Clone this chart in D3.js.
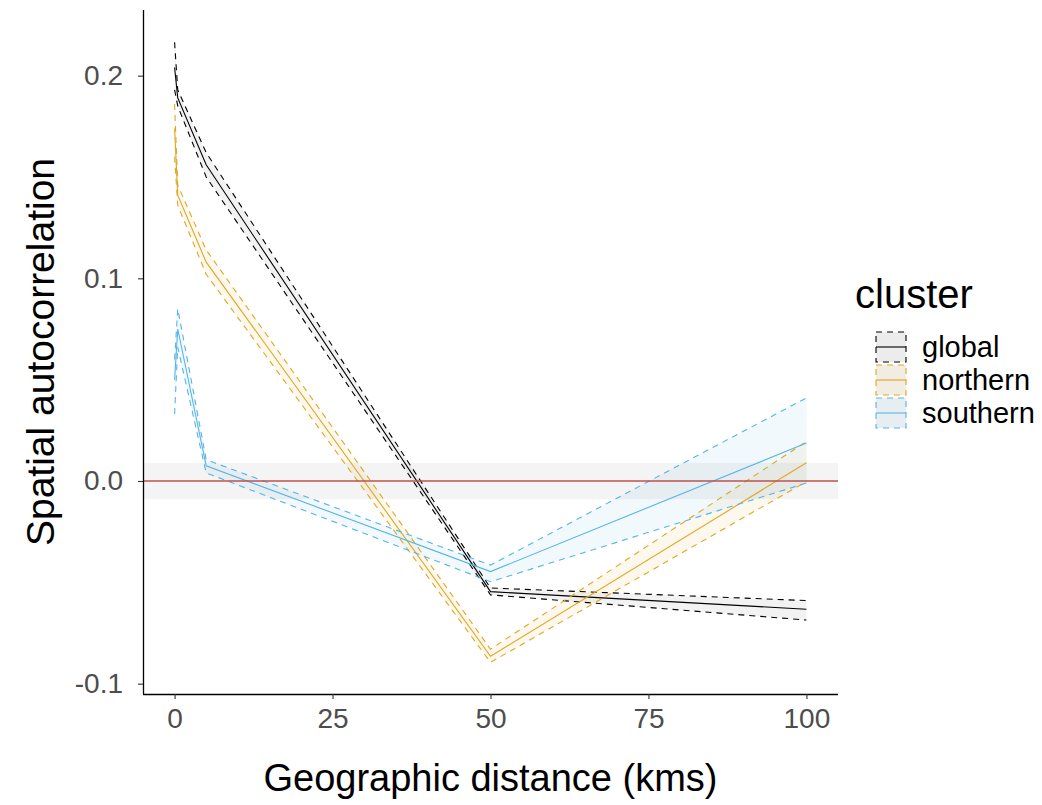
<!DOCTYPE html>
<html>
<head>
<meta charset="utf-8">
<script src="https://cdn.jsdelivr.net/npm/d3@7"></script>
<style>
  html, body { margin: 0; padding: 0; background: #ffffff; }
  svg { display: block; font-family: "Liberation Sans", Arial, sans-serif; }
</style>
</head>
<body>
<svg id="chart" width="1042" height="805"></svg>
<script>
// ---- data ----
const distances = [0, 0.5, 5, 50, 100];
const clusters = ["global", "northern", "southern"];
const globalMean = [0.204, 0.189, 0.156, -0.0546, -0.0633];
const globalLo   = [0.193, 0.185, 0.150, -0.0562, -0.0686];
const globalHi   = [0.2165, 0.193, 0.162, -0.0528, -0.0590];
const northernMean = [0.174, 0.141, 0.108, -0.0865, 0.0090];
const northernLo   = [0.160, 0.136, 0.102, -0.0895, -0.0003];
const northernHi   = [0.186, 0.146, 0.114, -0.0830, 0.0195];
const southernMean = [0.050, 0.075, 0.0075, -0.0447, 0.0187];
const southernLo   = [0.033, 0.066, 0.0040, -0.0497, -0.0010];
const southernHi   = [0.060, 0.085, 0.0105, -0.0415, 0.0410];
const nullBand = [-0.009, 0.009];
const xTicks = [0, 25, 50, 75, 100];
const yTicks = [-0.1, 0.0, 0.1, 0.2];
const colors = ["#000000", "#DFA820", "#56B4E9"];

const seriesMean = [globalMean, northernMean, southernMean];
const seriesLo = [globalLo, northernLo, southernLo];
const seriesHi = [globalHi, northernHi, southernHi];

const series = clusters.map((c, i) => ({
  name: c, color: colors[i],
  pts: distances.map((d, j) => ({ x: d, m: seriesMean[i][j], lo: seriesLo[i][j], hi: seriesHi[i][j] }))
}));

// ---- layout ----
const P = { left: 143, right: 838, top: 10, bottom: 694 };
const x = d3.scaleLinear().domain([-5, 105]).range([P.left, P.right]);
const y = d3.scaleLinear().domain([-0.1051, 0.2324]).range([P.bottom, P.top]);

const svg = d3.select("#chart");

// null band around zero
svg.append("rect")
  .attr("x", P.left + 1).attr("width", P.right - P.left - 1)
  .attr("y", y(nullBand[1])).attr("height", y(nullBand[0]) - y(nullBand[1]))
  .attr("fill", "#000").attr("fill-opacity", 0.045);

// ribbons
const area = d3.area().x(d => x(d.x)).y0(d => y(d.lo)).y1(d => y(d.hi));
const lineM = d3.line().x(d => x(d.x)).y(d => y(d.m));
const lineLo = d3.line().x(d => x(d.x)).y(d => y(d.lo));
const lineHi = d3.line().x(d => x(d.x)).y(d => y(d.hi));

series.forEach(s => {
  svg.append("path").attr("d", area(s.pts))
    .attr("fill", s.color).attr("fill-opacity", s.name === "global" ? 0.05 : 0.08)
    .attr("stroke", "none");
});
series.forEach(s => {
  [lineLo, lineHi].forEach(fn => {
    svg.append("path").attr("d", fn(s.pts))
      .attr("fill", "none").attr("stroke", s.color).attr("stroke-width", 1.1)
      .attr("stroke-dasharray", "6,5");
  });
  svg.append("path").attr("d", lineM(s.pts))
    .attr("fill", "none").attr("stroke", s.color).attr("stroke-width", 1.1);
});

// zero line
svg.append("line")
  .attr("x1", P.left).attr("x2", P.right)
  .attr("y1", y(0)).attr("y2", y(0))
  .attr("stroke", "#C0504D").attr("stroke-width", 1.4);

// axes
const fmtY = v => d3.format(".1f")(v).replace("\u2212", "-");
const xAxis = svg.append("g").attr("transform", `translate(0,${P.bottom})`)
  .call(d3.axisBottom(x).tickValues(xTicks).tickFormat(d3.format("d")).tickSize(5).tickPadding(9));
const yAxis = svg.append("g").attr("transform", `translate(${P.left},0)`)
  .call(d3.axisLeft(y).tickValues(yTicks).tickFormat(fmtY).tickSize(5).tickPadding(15));
[xAxis, yAxis].forEach(g => {
  g.select(".domain").attr("stroke", "#000").attr("stroke-width", 1.3);
  g.selectAll(".tick line").attr("stroke", "#333").attr("stroke-width", 1.1);
  g.selectAll(".tick text").attr("fill", "#4D4D4D").style("font-size", "28px")
    .style("font-family", "'Liberation Sans', Arial, sans-serif");
});
xAxis.select(".domain").attr("d", `M${P.left},0.5H${P.right}`);
yAxis.select(".domain").attr("d", `M0.5,${P.bottom}V${P.top}`);

// axis titles
svg.append("text").attr("x", (P.left + P.right) / 2).attr("y", 791)
  .attr("text-anchor", "middle").style("font-size", "38px").attr("fill", "#000")
  .text("Geographic distance (kms)");
svg.append("text").attr("transform", `translate(54,${(P.top + P.bottom) / 2}) rotate(-90)`)
  .attr("text-anchor", "middle").style("font-size", "39px").attr("fill", "#000")
  .text("Spatial autocorrelation");

// legend
const L = svg.append("g");
L.append("text").attr("x", 855).attr("y", 308).style("font-size", "40px").attr("fill", "#000").text("cluster");
series.forEach((s, i) => {
  const ky = 332 + i * 33;
  const g = L.append("g");
  g.append("rect").attr("x", 876).attr("y", ky).attr("width", 30).attr("height", 30)
    .attr("fill", "#f4f4f4");
  g.append("rect").attr("x", 876).attr("y", ky).attr("width", 30).attr("height", 30)
    .attr("fill", s.color).attr("fill-opacity", s.name === "global" ? 0.03 : 0.08)
    .attr("stroke", s.color).attr("stroke-width", 1.1).attr("stroke-dasharray", "6,5");
  g.append("line").attr("x1", 876).attr("x2", 906).attr("y1", ky + 15).attr("y2", ky + 15)
    .attr("stroke", s.color).attr("stroke-width", 1.1);
  g.append("text").attr("x", 922).attr("y", ky + 25).style("font-size", "29px").attr("fill", "#000").text(s.name);
});
</script>
</body>
</html>
